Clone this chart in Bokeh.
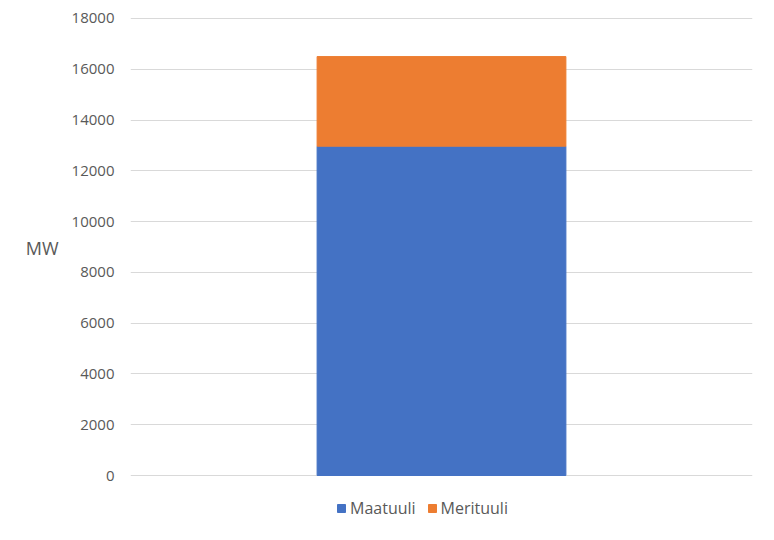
from bokeh.plotting import figure
from bokeh.models import ColumnDataSource, Legend, LegendItem, NumeralTickFormatter, FixedTicker, Range1d
from bokeh.embed import file_html
from bokeh.resources import INLINE

categories = ["Tuulivoima"]
maatuuli = [12970]
merituuli = [3530]
series_names = ["Maatuuli", "Merituuli"]
colors = ["#4472C4", "#ED7D31"]
y_ticks = [0, 2000, 4000, 6000, 8000, 10000, 12000, 14000, 16000, 18000]
y_label = "MW"

source = ColumnDataSource(data=dict(cat=categories, Maatuuli=maatuuli, Merituuli=merituuli))

# frame extends below zero to host the legend; 0 sits at the chart's baseline
p = figure(x_range=categories, y_range=Range1d(-2166, 18039), width=766, height=532,
           output_backend="svg", toolbar_location=None,
           min_border_left=130, min_border_right=14, min_border_top=17, min_border_bottom=2)

renderers = p.vbar_stack(series_names, x="cat", width=0.4, color=colors, source=source)

p.xaxis.visible = False
p.xgrid.visible = False
p.ygrid.grid_line_color = "#D9D9D9"
p.ygrid.grid_line_width = 1
p.outline_line_color = None

ax = p.yaxis[0]
ax.ticker = FixedTicker(ticks=y_ticks)
ax.formatter = NumeralTickFormatter(format="0")
ax.axis_line_color = None
ax.major_tick_line_color = None
ax.minor_tick_line_color = None
ax.major_label_text_font = "Open Sans"
ax.major_label_text_font_size = "15px"
ax.major_label_text_color = "#595959"
ax.major_label_standoff = 10
# trailing empty line lifts the label to the middle of the 0..18000 span
ax.axis_label = y_label + "\n\n"
ax.axis_label_orientation = "horizontal"
ax.axis_label_text_font = "Open Sans"
ax.axis_label_text_font_size = "18px"
ax.axis_label_text_font_style = "normal"
ax.axis_label_text_color = "#595959"
ax.axis_label_text_line_height = 1.08
ax.axis_label_standoff = 10

legend = Legend(items=[LegendItem(label=series_names[i], renderers=[renderers[i]]) for i in range(2)],
                orientation="horizontal", location=(206, 11))
legend.label_text_font = "Open Sans"
legend.label_text_font_size = "16px"
legend.label_text_color = "#595959"
legend.glyph_width = 10
legend.glyph_height = 10
legend.label_standoff = 4
legend.spacing = 11
legend.padding = 4
legend.margin = 0
legend.border_line_color = None
legend.background_fill_alpha = 0
p.add_layout(legend)

open("out.html", "w").write(file_html(p, INLINE))
